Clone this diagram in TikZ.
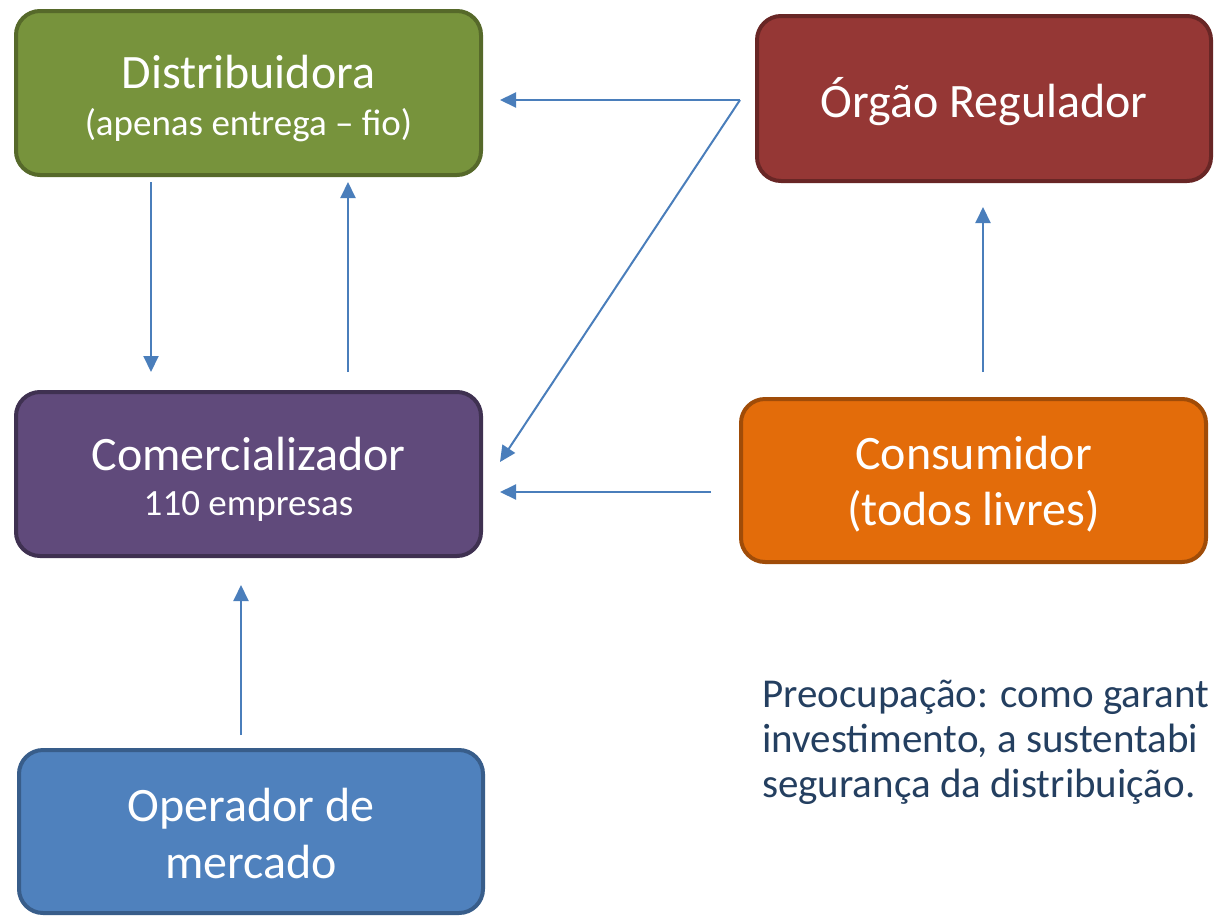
\documentclass[tikz,border=0pt]{standalone}
\usepackage{fontspec}
\setmainfont{Carlito}
\usetikzlibrary{arrows.meta,calc}
\definecolor{gfill}{HTML}{77933C}\definecolor{gline}{HTML}{56692A}
\definecolor{rfill}{HTML}{953735}\definecolor{rline}{HTML}{682625}
\definecolor{pfill}{HTML}{604A7B}\definecolor{pline}{HTML}{3F3151}
\definecolor{ofill}{HTML}{E36C0A}\definecolor{oline}{HTML}{A04C08}
\definecolor{bfill}{HTML}{4F81BD}\definecolor{bline}{HTML}{385D8A}
\definecolor{arrowc}{HTML}{4A7EBB}
\definecolor{notec}{HTML}{243F60}
\tikzset{
  box/.style={rectangle, rounded corners=24pt, line width=4pt, inner sep=0pt,
    text=white, align=center, minimum width=465pt, minimum height=164pt},
  arr/.style={draw=arrowc, line width=2pt, -{Triangle[length=16pt,width=15pt]}},
}
\newcommand{\smallline}[1]{{\fontsize{37}{37}\selectfont #1}}
\newcommand{\topst}[1]{\rule{0pt}{#1pt}}
\newcommand{\botst}{\rule[-13pt]{0pt}{0pt}}
\begin{document}
\begin{tikzpicture}[x=1pt,y=-1pt]
\useasboundingbox (0,0) rectangle (1215,916);
\clip (0,0) rectangle (1215,916);
\node[box, font=\fontsize{48}{47}\selectfont, fill=gfill, draw=gline] (distrib) at (248.5,93)
  {\topst{50}Distribuidora\\\smallline{(apenas entrega – fio)}\botst};
\node[box, font=\fontsize{48}{56}\selectfont, fill=rfill, draw=rline, minimum width=454pt, minimum height=165pt] (orgao) at (984,98.5)
  {\topst{50}Órgão Regulador\botst};
\node[box, font=\fontsize{48}{45}\selectfont, fill=pfill, draw=pline] (comerc) at (248.5,474)
  {\topst{50}Comercializador\\\smallline{110 empresas}\botst};
\node[box, font=\fontsize{48}{56}\selectfont, fill=ofill, draw=oline, minimum height=163pt] (consum) at (973.5,480.5)
  {\topst{46}Consumidor\\(todos livres)\botst};
\node[box, font=\fontsize{48}{57}\selectfont, fill=bfill, draw=bline, minimum width=464pt, minimum height=163pt] (oper) at (251,831.5)
  {\topst{49}Operador de\\mercado\botst};
\node[anchor=base west, align=left, text=notec, inner sep=0pt,
  font=\fontsize{41}{45}\selectfont] (nota) at (762,797)
  {Preocupação: como garant\\investimento, a sustentabi\\segurança da distribuição.};
% connectors
\draw[arr] ($(distrib.south west)+(137,5)$) -- ($(comerc.north west)+(137,-18)$);
\draw[arr] ($(comerc.north west)+(334,-18)$) -- ($(distrib.south west)+(334,5)$);
\coordinate (reg) at ($(orgao.west)+(-15,1.5)$);
\draw[arr] (reg) -- ($(distrib.east)+(17,7)$);
\draw[arr] (reg) -- ($(comerc.east)+(17,-12)$);
\draw[arr] ($(consum.west)+(-28,11.5)$) -- ($(comerc.east)+(17,18)$);
\draw[arr] ($(consum.north)+(9.5,-25)$) -- ($(orgao.south)+(-1,24)$);
\draw[arr] ($(oper.north)+(-10,-13)$) -- ($(comerc.south)+(-7.5,27)$);
\end{tikzpicture}
\end{document}
